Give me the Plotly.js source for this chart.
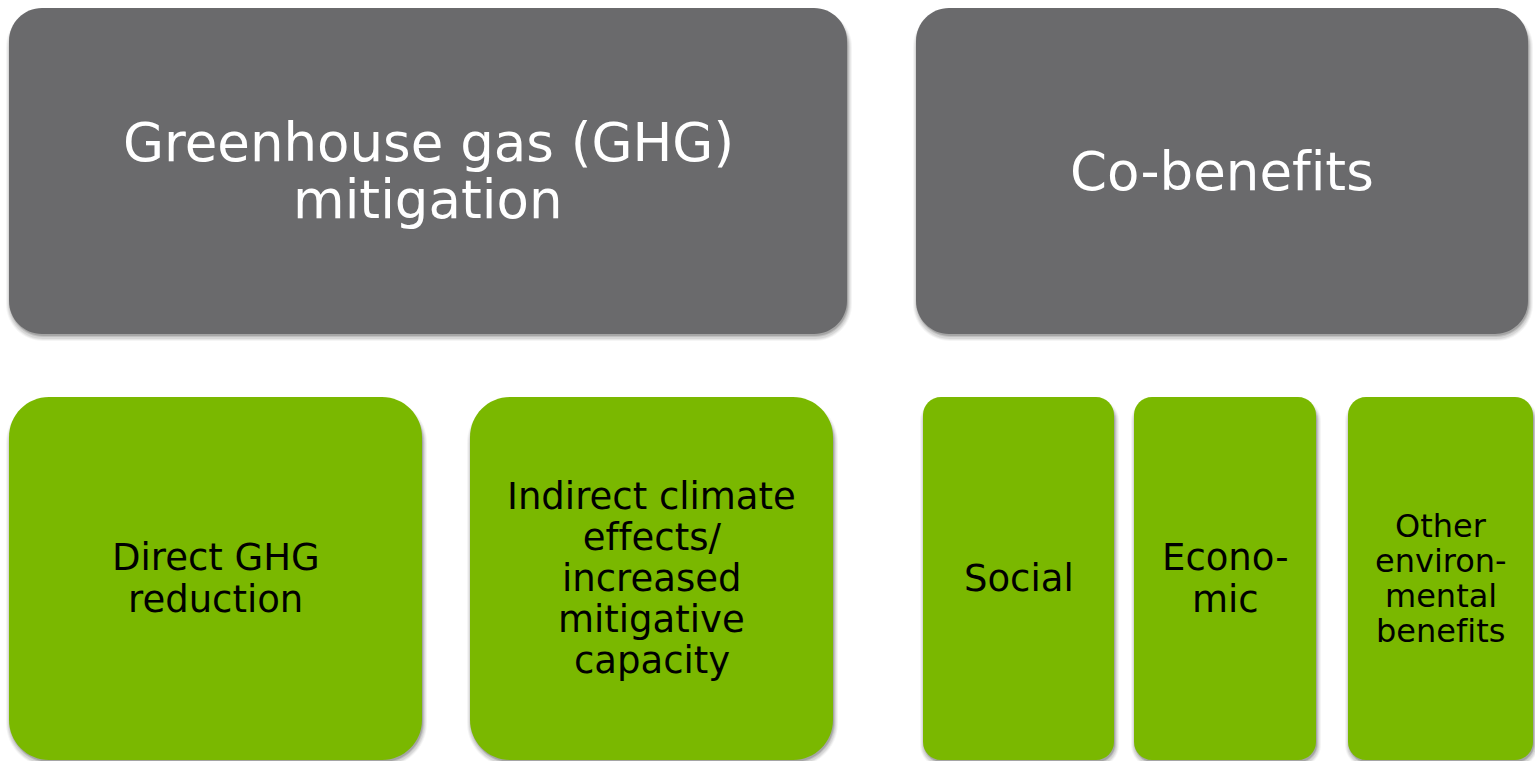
<!DOCTYPE html>
<html>
<head>
<meta charset="utf-8">
<script src="https://cdn.plot.ly/plotly-3.0.1.min.js"></script>
<style>
html,body{margin:0;padding:0;background:#fff;}
#chart{width:1535px;height:761px;}
#chart text{font-variant-ligatures:none !important;font-feature-settings:"liga" 0,"clig" 0 !important;}
</style>
</head>
<body>
<div id="chart"></div>
<script>
// ---- content (data) ----
var boxLabels = [
  "Greenhouse gas (GHG)<br>mitigation",
  "Co-benefits",
  "Direct GHG<br>reduction",
  "Indirect climate<br>effects/<br>increased<br>mitigative<br>capacity",
  "Social",
  "Econo-<br>mic",
  "Other<br>environ-<br>mental<br>benefits"
];
var boxLevel = ["category", "category", "item", "item", "item", "item", "item"];

// ---- layout geometry (positions / sizes / styles) ----
var boxLeft   = [9,   916,  9,   470, 923,  1134, 1348];
var boxRight  = [847, 1528, 422, 833, 1114, 1316, 1533];
var boxTop    = [8,   8,    397, 397, 397,  397,  397];
var boxBottom = [334, 334,  760, 760, 760,  760,  760];
var boxRadius = [33,  33,   40,  40,  18,   18,   18];
var fontSize  = [53,  53,   37,  37,  37,   37,   32];
var lineGap   = [57,  57,   42,  41,  42,   42,   35];
var styles = {
  category: {fill: "#6a6a6c", text: "#ffffff"},
  item:     {fill: "#7ab800", text: "#000000"}
};

function roundRect(l, t, r, b, rad) {
  var k = 0.5523 * rad;
  return "M" + (l + rad) + "," + t +
    " L" + (r - rad) + "," + t +
    " C" + (r - rad + k) + "," + t + " " + r + "," + (t + rad - k) + " " + r + "," + (t + rad) +
    " L" + r + "," + (b - rad) +
    " C" + r + "," + (b - rad + k) + " " + (r - rad + k) + "," + b + " " + (r - rad) + "," + b +
    " L" + (l + rad) + "," + b +
    " C" + (l + rad - k) + "," + b + " " + l + "," + (b - rad + k) + " " + l + "," + (b - rad) +
    " L" + l + "," + (t + rad) +
    " C" + l + "," + (t + rad - k) + " " + (l + rad - k) + "," + t + " " + (l + rad) + "," + t + " Z";
}

var shapes = [];
var annotations = [];
var shadowLayers = [
  {dx: 1, dy: 3, grow: 4, a: 0.04},
  {dx: 1, dy: 3, grow: 3, a: 0.05},
  {dx: 1, dy: 3, grow: 2, a: 0.07},
  {dx: 1, dy: 2, grow: 1, a: 0.10},
  {dx: 1, dy: 2, grow: 0, a: 0.14}
];
for (var i = 0; i < boxLabels.length; i++) {
  var st = styles[boxLevel[i]];
  shadowLayers.forEach(function (s) {
    shapes.push({
      type: "path", xref: "x", yref: "y", layer: "below",
      path: roundRect(boxLeft[i] + s.dx - s.grow, boxTop[i] + s.dy - s.grow + 3,
                      boxRight[i] + s.dx + s.grow, boxBottom[i] + s.dy + s.grow,
                      boxRadius[i] + s.grow),
      fillcolor: "rgba(0,0,0," + s.a + ")", line: {width: 0}
    });
  });
  shapes.push({
    type: "path", xref: "x", yref: "y", layer: "below",
    path: roundRect(boxLeft[i], boxTop[i], boxRight[i], boxBottom[i], boxRadius[i]),
    fillcolor: st.fill, line: {width: 0}
  });
  var lines = boxLabels[i].split("<br>");
  var cx = (boxLeft[i] + boxRight[i]) / 2;
  var cy = (boxTop[i] + boxBottom[i]) / 2;
  for (var j = 0; j < lines.length; j++) {
    annotations.push({
      x: cx, y: cy + (j - (lines.length - 1) / 2) * lineGap[i],
      xref: "x", yref: "y", text: lines[j], showarrow: false,
      xanchor: "center", yanchor: "middle",
      font: {family: "DejaVu Sans, Verdana, sans-serif", size: fontSize[i], color: st.text}
    });
  }
}

var layout = {
  width: 1535, height: 761,
  margin: {l: 0, r: 0, t: 0, b: 0},
  paper_bgcolor: "#ffffff", plot_bgcolor: "#ffffff",
  xaxis: {range: [0, 1535], visible: false, fixedrange: true},
  yaxis: {range: [761, 0], visible: false, fixedrange: true},
  shapes: shapes, annotations: annotations, showlegend: false
};
Plotly.newPlot("chart", [{x: [], y: [], type: "scatter", hoverinfo: "skip"}], layout,
  {displayModeBar: false, staticPlot: true}).then(function (gd) {
  gd.querySelectorAll("text").forEach(function (t) {
    t.style.fontVariantLigatures = "none";
    t.style.fontFeatureSettings = '"liga" 0, "clig" 0';
    t.setAttribute("font-variant-ligatures", "none");
  });
});
</script>
</body>
</html>
